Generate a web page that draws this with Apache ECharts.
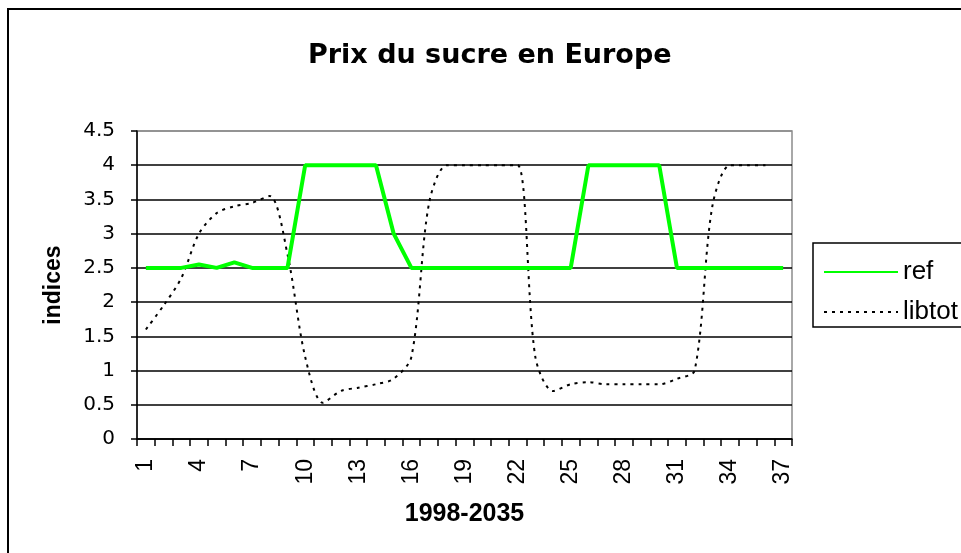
<!DOCTYPE html>
<html>
<head>
<meta charset="utf-8">
<title>Prix du sucre en Europe</title>
<script src="https://cdn.jsdelivr.net/npm/echarts@6/dist/echarts.min.js"></script>
<style>
  html, body { margin: 0; padding: 0; background: #fff; }
  #chart { width: 961px; height: 553px; }
</style>
</head>
<body>
<div id="chart"></div>
<script>
// categories 1..37 (years 1998-2035)
const categories = [];
for (let i = 1; i <= 37; i++) categories.push(String(i));

// series values
const refValues = [
  2.5, 2.5, 2.5, 2.55, 2.5, 2.58, 2.5, 2.5, 2.5, 4,
  4, 4, 4, 4, 3, 2.5, 2.5, 2.5, 2.5, 2.5,
  2.5, 2.5, 2.5, 2.5, 2.5, 4, 4, 4, 4, 4,
  2.5, 2.5, 2.5, 2.5, 2.5, 2.5, 2.5
];
const libtotValues = [
  1.6, 1.95, 2.35, 3.0, 3.3, 3.4, 3.45, 3.55, 2.7, 1.2,
  0.53, 0.7, 0.75, 0.8, 0.88, 1.2, 3.45, 4.0, 4.0, 4.0,
  4.0, 4.0, 1.2, 0.7, 0.8, 0.83, 0.8, 0.8, 0.8, 0.8,
  0.88, 1.0, 3.4, 4.0, 4.0, 4.0, null
];
const seriesNames = ["ref", "libtot"];

const ARIAL = "Liberation Sans, Arial, sans-serif";
const WIDE = "DejaVu Sans, Verdana, sans-serif";

const chart = echarts.init(document.getElementById("chart"));

// split lines: black, except the top one (4.5) which is the grey plot frame
const splitColors = ["#000", "#000", "#000", "#000", "#000", "#000", "#000", "#000", "#000", "#8c8c8c"];

const option = {
  animation: false,
  backgroundColor: "#fff",
  title: {
    text: "Prix du sucre en Europe",
    left: 303,
    top: 37,
    textStyle: { fontFamily: WIDE, fontSize: 27, fontWeight: "bold", color: "#000" }
  },
  grid: {
    left: 137,
    top: 131,
    right: 169,
    bottom: 114,
    show: true,
    borderColor: "#8c8c8c",
    borderWidth: 1.5,
    backgroundColor: "#fff"
  },
  legend: {
    orient: "vertical",
    left: 818,
    top: 254,
    itemWidth: 74,
    itemHeight: 14,
    itemGap: 14,
    data: seriesNames,
    itemStyle: { opacity: 0 },
    textStyle: { fontFamily: ARIAL, fontSize: 26, color: "#000" }
  },
  xAxis: {
    type: "category",
    data: categories,
    boundaryGap: true,
    name: "1998-2035",
    nameLocation: "middle",
    nameGap: 63,
    nameTextStyle: { fontFamily: ARIAL, fontSize: 25, fontWeight: "bold", color: "#000" },
    axisLine: { lineStyle: { color: "#000", width: 1.5 } },
    axisTick: { show: true, interval: 0, length: 7, alignWithLabel: false, lineStyle: { color: "#000", width: 1.5 } },
    axisLabel: {
      interval: 2,
      rotate: 90,
      margin: 20,
      fontFamily: ARIAL,
      fontSize: 23,
      color: "#000"
    },
    splitLine: { show: false }
  },
  yAxis: {
    type: "value",
    min: 0,
    max: 4.5,
    interval: 0.5,
    name: "indices",
    nameLocation: "middle",
    nameRotate: 90,
    nameGap: 72,
    nameTextStyle: { fontFamily: ARIAL, fontSize: 23, fontWeight: "bold", color: "#000" },
    axisLine: { show: true, lineStyle: { color: "#000", width: 1.5 } },
    axisTick: { show: true, length: 6, lineStyle: { color: "#000", width: 1.5 } },
    axisLabel: { margin: 22, fontFamily: WIDE, fontSize: 20, color: "#000" },
    splitLine: { show: true, lineStyle: { color: splitColors, width: 1.5 } }
  },
  series: [
    {
      name: seriesNames[0],
      type: "line",
      data: refValues,
      symbol: "none",
      z: 3,
      lineStyle: { color: "#00ff00", width: 4 },
      itemStyle: { color: "#00ff00" }
    },
    {
      name: seriesNames[1],
      type: "line",
      data: libtotValues,
      symbol: "none",
      smooth: 0.3,
      z: 2,
      lineStyle: { color: "#000", width: 2, type: [3, 5] },
      itemStyle: { color: "#000" }
    }
  ],
  graphic: [
    // outer chart frame (right and bottom sides run off the page)
    {
      type: "rect",
      shape: { x: 8, y: 9, width: 1000, height: 600 },
      style: { fill: null, stroke: "#000", lineWidth: 2 },
      z: 10,
      silent: true
    },
    // legend frame
    {
      type: "rect",
      shape: { x: 813, y: 243, width: 200, height: 84 },
      style: { fill: null, stroke: "#000", lineWidth: 1.5 },
      z: 10,
      silent: true
    }
  ]
};

chart.setOption(option);
</script>
</body>
</html>
